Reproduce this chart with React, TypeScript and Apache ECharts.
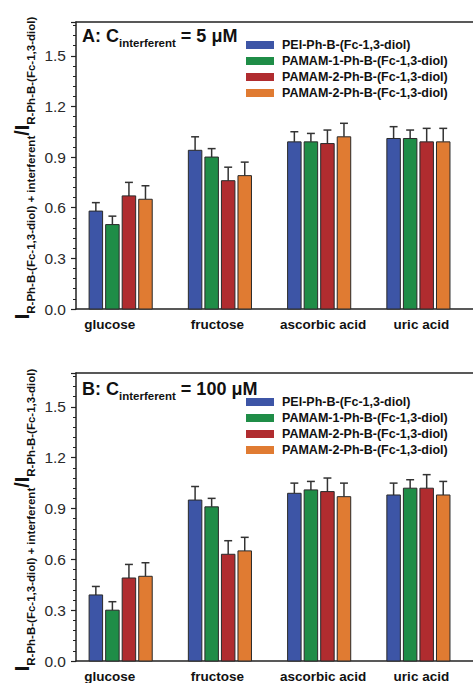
import React, { useEffect, useRef } from "react";
import * as echarts from "echarts";

const FONT = "'Liberation Sans', Arial, Helvetica, sans-serif";

const categories = ["glucose", "fructose", "ascorbic acid", "uric acid"];
const categoryX = [1, 2, 3, 4];
const labelX = [0.89, 1.975, 3.04, 4.03];
const seriesNames = [
  "PEI-Ph-B-(Fc-1,3-diol)",
  "PAMAM-1-Ph-B-(Fc-1,3-diol)",
  "PAMAM-2-Ph-B-(Fc-1,3-diol)",
  "PAMAM-2-Ph-B-(Fc-1,3-diol)",
];
const colors = ["#3D55A6", "#1F8D47", "#B02C2F", "#E07B32"];

// Panel A: C_interferent = 5 uM
const aPEI = [0.58, 0.94, 0.99, 1.01];
const aPAMAM1 = [0.5, 0.9, 0.99, 1.01];
const aPAMAM2 = [0.67, 0.76, 0.98, 0.99];
const aPAMAM2b = [0.65, 0.79, 1.02, 0.99];
const aErrPEI = [0.05, 0.08, 0.06, 0.07];
const aErrPAMAM1 = [0.05, 0.05, 0.05, 0.05];
const aErrPAMAM2 = [0.08, 0.08, 0.08, 0.08];
const aErrPAMAM2b = [0.08, 0.08, 0.08, 0.08];

// Panel B: C_interferent = 100 uM
const bPEI = [0.39, 0.95, 0.99, 0.98];
const bPAMAM1 = [0.3, 0.91, 1.01, 1.02];
const bPAMAM2 = [0.49, 0.63, 1.0, 1.02];
const bPAMAM2b = [0.5, 0.65, 0.97, 0.98];
const bErrPEI = [0.05, 0.08, 0.06, 0.07];
const bErrPAMAM1 = [0.05, 0.05, 0.05, 0.05];
const bErrPAMAM2 = [0.08, 0.08, 0.08, 0.08];
const bErrPAMAM2b = [0.08, 0.08, 0.08, 0.08];

const yTicks = [0, 0.3, 0.6, 0.9, 1.2, 1.5];

const panelA = { values: [aPEI, aPAMAM1, aPAMAM2, aPAMAM2b], errors: [aErrPEI, aErrPAMAM1, aErrPAMAM2, aErrPAMAM2b] };
const panelB = { values: [bPEI, bPAMAM1, bPAMAM2, bPAMAM2b], errors: [bErrPEI, bErrPAMAM1, bErrPAMAM2, bErrPAMAM2b] };

const OFFSETS = [-0.25, -0.0833, 0.0833, 0.25];
const BAR_HALF = 0.068;
const CAP_HALF = 0.04;

function makeSeries(panel: typeof panelA, gi: number) {
  return panel.values.map((vals, k) => ({
    type: "custom",
    name: seriesNames[k],
    xAxisIndex: gi * 2,
    yAxisIndex: gi,
    itemStyle: { color: colors[k] },
    encode: { x: 0, y: 1 },
    data: categoryX.map((x, i) => [x, vals[i], panel.errors[k][i]]),
    renderItem: (params: any, api: any) => {
      const xc = api.value(0) + OFFSETS[k];
      const v = api.value(1);
      const e = api.value(2);
      const bl = api.coord([xc - BAR_HALF, 0]);
      const tr = api.coord([xc + BAR_HALF, v]);
      const top = api.coord([xc, v]);
      const et = api.coord([xc, v + e]);
      const cl = api.coord([xc - CAP_HALF, v + e]);
      const cr = api.coord([xc + CAP_HALF, v + e]);
      return {
        type: "group",
        children: [
          {
            type: "line",
            shape: { x1: top[0], y1: top[1], x2: et[0], y2: et[1] },
            style: { stroke: "#333", lineWidth: 1.5 },
          },
          {
            type: "line",
            shape: { x1: cl[0], y1: cl[1], x2: cr[0], y2: cr[1] },
            style: { stroke: "#333", lineWidth: 1.5 },
          },
          {
            type: "rect",
            shape: { x: bl[0], y: tr[1], width: tr[0] - bl[0], height: bl[1] - tr[1] },
            style: { fill: colors[k], stroke: "#2a2a2a", lineWidth: 1 },
          },
        ],
      };
    },
  }));
}

function xAxes(gi: number) {
  return [
    {
      type: "value",
      gridIndex: gi,
      min: 0.55,
      max: 4.55,
      axisLine: { onZero: false, lineStyle: { color: "#222", width: 1.5 } },
      axisTick: { show: false },
      splitLine: { show: false },
      axisLabel: {
        customValues: labelX,
        formatter: (v: number) => categories[Math.round(v) - 1] ?? "",
        fontFamily: FONT,
        fontWeight: "bold",
        fontSize: 13.5,
        color: "#111",
        margin: 8,
      },
    },
    {
      type: "value",
      gridIndex: gi,
      position: "top",
      min: 0.55,
      max: 4.55,
      axisLine: { show: true, onZero: false, lineStyle: { color: "#222", width: 1.5 } },
      axisTick: { show: false },
      axisLabel: { show: false },
      splitLine: { show: false },
    },
  ];
}

function yAxis(gi: number) {
  return {
    type: "value",
    gridIndex: gi,
    min: 0,
    max: 1.7,
    interval: 0.3,
    axisLine: { show: true, lineStyle: { color: "#222", width: 1.5 } },
    axisTick: { show: true, length: 5, lineStyle: { color: "#222", width: 1.2 } },
    minorTick: { show: true, splitNumber: 5, length: 3, lineStyle: { color: "#222", width: 1 } },
    splitLine: { show: false },
    axisLabel: {
      showMaxLabel: false,
      formatter: (v: number) => (yTicks.some((t) => Math.abs(t - v) < 1e-6) ? v.toFixed(1) : ""),
      fontFamily: FONT,
      fontSize: 15.5,
      color: "#2a2a2a",
      margin: 10,
    },
  };
}

function legendGraphics(rowY: number[]) {
  const out: any[] = [];
  seriesNames.forEach((name, k) => {
    out.push({
      type: "rect",
      shape: { x: 246, y: rowY[k] - 4, width: 28, height: 8 },
      style: { fill: colors[k] },
    });
    out.push({
      type: "text",
      x: 282,
      y: rowY[k],
      style: {
        text: name,
        font: `bold 12.5px ${FONT}`,
        fill: "#111",
        align: "left",
        verticalAlign: "middle",
      },
    });
  });
  return out;
}

function titleGraphic(label: string, conc: string, y: number) {
  return {
    type: "text",
    x: 82,
    y,
    style: {
      text: `{b|${label}: C}{s|interferent}{b| = ${conc} μM}`,
      fill: "#111",
      align: "left",
      verticalAlign: "top",
      rich: {
        b: { fontSize: 18, fontWeight: "bold", fontFamily: FONT, verticalAlign: "bottom", padding: [0, 0, 4, 0], fill: "#111" },
        s: { fontSize: 11.5, fontWeight: "bold", fontFamily: FONT, verticalAlign: "bottom", fill: "#111" },
      },
    },
  };
}

function yTitleGraphic(cy: number) {
  return {
    type: "text",
    x: 24,
    y: cy,
    rotation: Math.PI / 2,
    style: {
      text: "{I|I}{s|R-Ph-B-(Fc-1,3-diol) + interferent}{I|/I}{s|R-Ph-B-(Fc-1,3-diol)}",
      align: "center",
      verticalAlign: "middle",
      fill: "#111",
      rich: {
        I: { fontSize: 20, fontWeight: "bold", fontFamily: FONT, verticalAlign: "bottom", padding: [0, 0, 5, 0], fill: "#111" },
        s: { fontSize: 11.5, fontWeight: "bold", fontFamily: FONT, verticalAlign: "bottom", fill: "#111" },
      },
    },
  };
}

export default function App() {
  const ref = useRef<HTMLDivElement>(null);
  useEffect(() => {
    if (!ref.current) return;
    const chart = echarts.init(ref.current, undefined, { renderer: "svg" });
    chart.setOption({
      animation: false,
      backgroundColor: "#ffffff",
      grid: [
        { left: 76, top: 22, width: 400, height: 287 },
        { left: 76, top: 373, width: 400, height: 290 },
      ],
      xAxis: [...xAxes(0), ...xAxes(1)],
      yAxis: [yAxis(0), yAxis(1)],
      series: [...makeSeries(panelA, 0), ...makeSeries(panelB, 1)],
      graphic: [
        titleGraphic("A", "5", 26.5),
        titleGraphic("B", "100", 379.5),
        ...legendGraphics([45, 61, 77, 93]),
        ...legendGraphics([402, 418, 434, 450]),
        yTitleGraphic(168),
        yTitleGraphic(520),
      ],
    });
    return () => chart.dispose();
  }, []);
  return (
    <div
      ref={ref}
      style={{ position: "absolute", left: 0, top: 0, width: 473, height: 683 }}
    />
  );
}
